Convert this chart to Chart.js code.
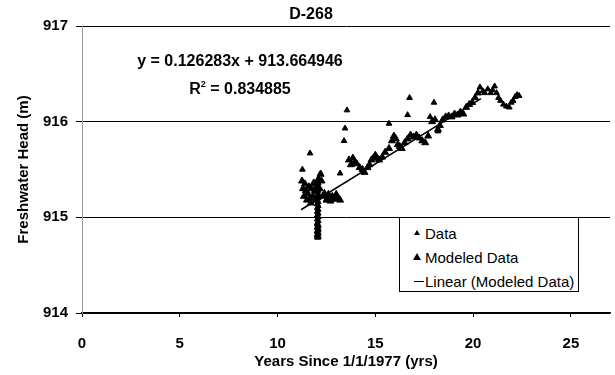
<!DOCTYPE html>
<html lang="en">
<head>
  <meta charset="UTF-8" />
  <title>D-268</title>
  <script src="https://cdn.jsdelivr.net/npm/chart.js"></script>
  <style>
    body {
      margin: 0;
      background: #fff;
      font-family: 'Liberation Sans', Arial, sans-serif;
    }
    .wrap {
      position: relative;
      width: 615px;
      height: 375px;
    }
    .title {
      position: absolute;
      left: 261px;
      width: 100px;
      top: 5px;
      text-align: center;
      font: bold 16px 'Liberation Sans', Arial, sans-serif;
    }
    .eq {
      position: absolute;
      left: 100px;
      width: 280px;
      text-align: center;
      font: bold 16px 'Liberation Sans', Arial, sans-serif;
    }
    .eq sup { font-size: 9px; vertical-align: 7px; }
    .legend {
      position: absolute;
      left: 399px;
      top: 217px;
      width: 178px;
      height: 73px;
      border: 1px solid #000;
      background: #fff;
      font: 15px 'Liberation Sans', Arial, sans-serif;
    }
    .item {
      position: absolute;
      left: 25px;
      line-height: 18px;
    }
    .mark {
      position: absolute;
      left: -11px;
      width: 0;
      height: 0;
      border-left: 3px solid transparent;
      border-right: 3px solid transparent;
      border-bottom: 5px solid #000;
    }
    .mark.big {
      left: -12px;
      border-left-width: 4px;
      border-right-width: 4px;
      border-bottom-width: 7px;
    }
    .dash {
      position: absolute;
      left: -11px;
      width: 10px;
      height: 1px;
      background: #000;
    }
  </style>
</head>
<body>
  <div class="wrap">
    <canvas id="chart" width="615" height="375"></canvas>
    <div class="title">D-268</div>
    <div class="eq" style="top: 52px">y = 0.126283x + 913.664946</div>
    <div class="eq" style="top: 79px">R<sup>2</sup> = 0.834885</div>
    <div class="legend">
      <div class="item" style="top: 7px"><span class="mark" style="top: 5px"></span>Data</div>
      <div class="item" style="top: 31px"><span class="mark big" style="top: 4px"></span>Modeled Data</div>
      <div class="item" style="top: 55px"><span class="dash" style="top: 8px"></span>Linear (Modeled Data)</div>
    </div>
  </div>

  <script>
    // measured data (small triangles), incl. the dense column near 12 yrs
    const dataX = [11.27, 11.66, 13.2, 13.4, 13.45, 13.55, 15.7, 16.65, 16.75, 17.8, 18.0, 18.2,
      12.03, 12.08, 12.03, 12.08, 12.03, 12.08, 12.03, 12.08, 12.03, 12.08,
      12.03, 12.08, 12.03, 12.08, 12.03, 12.08, 12.03, 12.08, 12.03, 12.08,
      12.03, 12.08, 12.03, 12.08, 12.03, 12.08, 12.03, 12.08, 12.03, 12.08,
      12.03, 12.08, 12.03, 12.08, 12.03, 12.08, 12.03, 12.08, 12.03, 12.08, 12.2,
      20.35, 20.5, 20.6, 20.75, 20.9, 21.0, 21.1, 21.2, 21.3, 21.4, 21.55,
      21.7, 21.85, 21.95, 22.05, 22.15, 22.25, 22.35];
    const dataY = [915.5, 915.67, 915.46, 915.8, 915.93, 916.12, 915.98, 916.07, 916.25, 916.05, 916.2, 915.9,
      914.79, 914.80, 914.82, 914.84, 914.86, 914.88, 914.90, 914.92, 914.94, 914.96,
      914.98, 915.00, 915.02, 915.04, 915.06, 915.08, 915.10, 915.12, 915.14, 915.16,
      915.18, 915.20, 915.22, 915.24, 915.26, 915.28, 915.30, 915.32, 915.34, 915.36,
      915.38, 914.79, 914.81, 914.83, 914.85, 914.87, 914.89, 914.91, 914.93, 915.40, 915.46,
      916.36, 916.32, 916.3, 916.34, 916.3, 916.33, 916.37, 916.3, 916.25, 916.22, 916.18,
      916.16, 916.15, 916.2, 916.22, 916.26, 916.28, 916.27];

    // modeled data (larger triangles)
    const modeledX = [11.25, 11.3, 11.35, 11.4, 11.45, 11.5, 11.55, 11.6, 11.65, 11.7, 11.75, 11.8,
      11.85, 11.9, 11.95, 12.0, 12.1, 12.15, 12.2, 12.25, 12.3, 12.4, 12.5, 12.55, 12.6, 12.7,
      12.8, 12.9, 13.0, 13.1, 13.2, 13.65, 13.75, 13.85, 13.95, 14.05, 14.2, 14.35, 14.45, 14.6,
      14.7, 14.8, 14.9, 15.0, 15.1, 15.2, 15.35, 15.5, 15.7, 15.85, 15.95, 16.05, 16.15, 16.25,
      16.35, 16.5, 16.65, 16.8, 16.95, 17.1, 17.25, 17.4, 17.55, 17.7, 17.9, 18.05, 18.2, 18.3,
      18.45, 18.6, 18.75, 18.9, 19.05, 19.2, 19.35, 19.5, 19.65, 19.8, 19.95, 20.1, 20.25];
    const modeledY = [915.38, 915.3, 915.22, 915.35, 915.28, 915.18, 915.25, 915.32, 915.2, 915.15, 915.3, 915.22,
      915.36, 915.28, 915.18, 915.35, 915.4, 915.3, 915.45, 915.38, 915.22, 915.25, 915.18, 915.2, 915.24, 915.17,
      915.22, 915.19, 915.24, 915.2, 915.18, 915.6, 915.55, 915.62, 915.58, 915.56, 915.52, 915.5, 915.47, 915.52,
      915.55, 915.6, 915.62, 915.65, 915.62, 915.6, 915.63, 915.68, 915.72, 915.8, 915.85, 915.82, 915.76, 915.74,
      915.72, 915.78, 915.82, 915.86, 915.84, 915.86, 915.83, 915.8, 915.78, 915.85, 916.0, 916.02, 915.92, 915.96,
      916.02, 916.05, 916.06, 916.05, 916.08, 916.07, 916.1, 916.08, 916.15, 916.18, 916.2, 916.25, 916.3];

    // linear trendline of modeled data, as printed on the chart
    const trendSlope = 0.126283;
    const trendIntercept = 913.664946;
    const trendXRange = [11.2, 20.4];

    const yTicks = [914, 915, 916, 917];
    const xTicks = [0, 5, 10, 15, 20, 25];

    const toPoints = (xs, ys) => xs.map((x, i) => ({ x: x, y: ys[i] }));
    const trendPoints = trendXRange.map(x => ({ x: x, y: trendSlope * x + trendIntercept }));

    new Chart(document.getElementById('chart'), {
      type: 'scatter',
      data: {
        datasets: [
          {
            label: 'Linear (Modeled Data)',
            data: trendPoints,
            showLine: true,
            borderColor: '#000',
            borderWidth: 1.5,
            pointRadius: 0
          },
          {
            label: 'Data',
            data: toPoints(dataX, dataY),
            pointStyle: 'triangle',
            pointRadius: 3.3,
            backgroundColor: '#000',
            borderColor: '#000',
            borderWidth: 1
          },
          {
            label: 'Modeled Data',
            data: toPoints(modeledX, modeledY),
            pointStyle: 'triangle',
            pointRadius: 4,
            backgroundColor: '#000',
            borderColor: '#000',
            borderWidth: 1
          }
        ]
      },
      options: {
        responsive: false,
        animation: false,
        layout: { padding: { top: 26, right: 3, left: 0, bottom: 0 } },
        plugins: {
          legend: { display: false },
          tooltip: { enabled: false }
        },
        scales: {
          x: {
            type: 'linear',
            min: 0,
            max: 27,
            afterBuildTicks: s => { s.ticks = xTicks.map(v => ({ value: v })); },
            afterFit: s => { s.height = 62; },
            border: { color: '#000', width: 1.5 },
            grid: { drawOnChartArea: false, tickLength: 4, color: '#000' },
            ticks: {
              padding: 18,
              color: '#000',
              font: { family: 'Liberation Sans', size: 15, weight: 'bold' }
            },
            title: {
              display: true,
              text: 'Years Since 1/1/1977 (yrs)',
              color: '#000',
              padding: { top: 0, bottom: 4 },
              font: { family: 'Liberation Sans', size: 15, weight: 'bold' }
            }
          },
          y: {
            min: 914,
            max: 917,
            afterBuildTicks: s => { s.ticks = yTicks.map(v => ({ value: v })); },
            afterFit: s => { s.width = 82; },
            border: { color: '#999', width: 1 },
            grid: { color: '#000', lineWidth: 1, tickLength: 6 },
            ticks: {
              padding: 8,
              color: '#000',
              font: { family: 'Liberation Sans', size: 15, weight: 'bold' }
            },
            title: {
              display: true,
              text: 'Freshwater Head (m)',
              color: '#000',
              padding: { top: 15, bottom: 0 },
              font: { family: 'Liberation Sans', size: 15, weight: 'bold' }
            }
          }
        }
      }
    });
  </script>
</body>
</html>
